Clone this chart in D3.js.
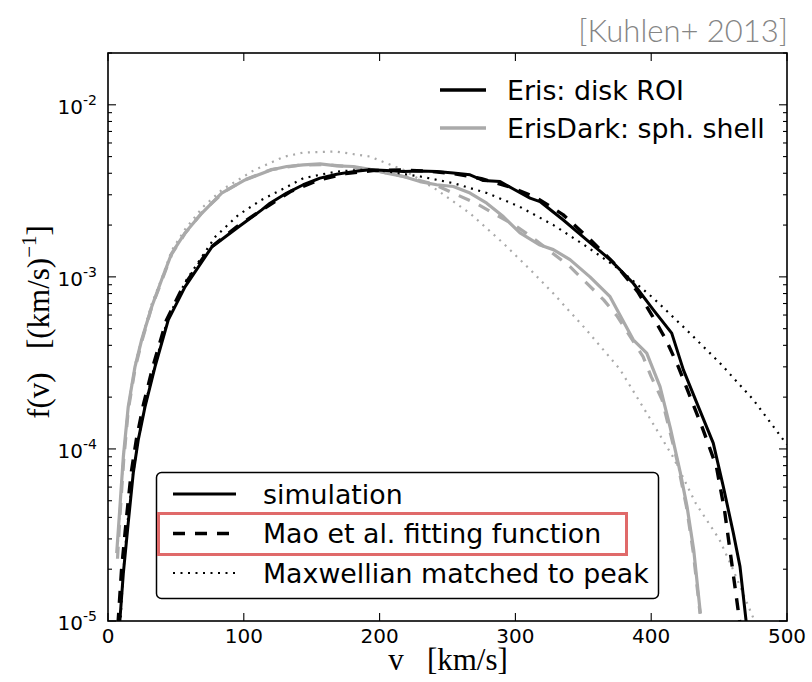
<!DOCTYPE html>
<html>
<head>
<meta charset="utf-8">
<script src="https://cdn.jsdelivr.net/npm/d3@7"></script>
<style>
  html, body { margin: 0; padding: 0; background: #fff; }
  svg { display: block; }
</style>
</head>
<body>
<svg id="chart" width="812" height="682"></svg>
<script>
// Speed distributions f(v), pairs of [v (km/s), f ((km/s)^-1)]
const erisSim = [
  [8.5, 9.5e-6], [11.3, 1.9e-5], [14.9, 3.72e-5], [18.6, 7.24e-5], [22.3, 1.13e-4],
  [27.2, 1.75e-4], [34.6, 3.0e-4], [44.4, 5.62e-4], [56.7, 8.75e-4], [76.4, 1.49e-3],
  [96.0, 1.95e-3], [113.2, 2.45e-3], [119.3, 2.68e-3], [131.6, 3.07e-3], [143.8, 3.43e-3],
  [156.1, 3.75e-3], [168.4, 3.95e-3], [180.6, 4.09e-3], [192.9, 4.19e-3], [205.2, 4.15e-3],
  [217.5, 4.09e-3], [229.7, 4.13e-3], [242.0, 4.09e-3], [254.3, 4.01e-3], [266.6, 3.92e-3],
  [276.4, 3.63e-3], [288.7, 3.58e-3], [298.5, 3.24e-3], [310.8, 2.87e-3], [318.1, 2.74e-3],
  [335.3, 2.14e-3], [352.5, 1.64e-3], [369.7, 1.26e-3], [386.8, 9.18e-4], [401.6, 6.43e-4],
  [415.1, 4.71e-4], [423.7, 2.88e-4], [434.7, 1.76e-4], [445.7, 1.08e-4], [453.1, 6.04e-5],
  [460.5, 3.24e-5], [465.4, 2.07e-5], [470.2, 9.5e-6]
];
const erisFit = [
  [7.3, 9.5e-6], [10, 2.0e-5], [13.5, 3.9e-5], [17, 7.2e-5], [21, 1.15e-4], [26, 1.8e-4],
  [33, 3.0e-4], [43, 5.6e-4], [55, 8.7e-4], [75, 1.47e-3], [95, 1.96e-3], [115, 2.5e-3],
  [135, 3.15e-3], [155, 3.65e-3], [175, 3.98e-3], [195, 4.15e-3], [215, 4.18e-3],
  [235, 4.12e-3], [255, 3.98e-3], [275, 3.72e-3], [295, 3.35e-3], [315, 2.9e-3],
  [335, 2.3e-3], [355, 1.65e-3], [375, 1.15e-3], [390, 8.2e-4], [401, 5.9e-4], [411, 4.3e-4],
  [420, 3.0e-4], [430, 1.89e-4], [437.5, 1.34e-4], [448, 7.9e-5], [454, 4.4e-5],
  [459, 2.26e-5], [464, 1.16e-5], [465.5, 9.5e-6]
];
const erisMaxwell = [
  [9, 9.5e-6], [11, 1.8e-5], [14, 3.5e-5], [18, 6.8e-5], [22, 1.1e-4], [27, 1.75e-4],
  [34, 3.0e-4], [44, 5.7e-4], [57, 9.4e-4], [79, 1.71e-3], [96, 2.29e-3], [113, 2.8e-3],
  [130, 3.28e-3], [144, 3.75e-3], [168, 4.09e-3], [193, 4.22e-3], [210, 4.05e-3],
  [230, 3.83e-3], [254, 3.51e-3], [279, 3.07e-3], [303, 2.56e-3], [328, 2.0e-3],
  [352.5, 1.5e-3], [377, 1.1e-3], [401.6, 7.52e-4], [426, 4.92e-4], [450.7, 3.15e-4],
  [475.2, 1.93e-4], [497.3, 1.13e-4], [500, 1.06e-4]
];
const darkSim = [
  [6.4, 2.48e-5], [8.8, 4.62e-5], [11.3, 9.01e-5], [14.9, 1.76e-4], [19.9, 3.01e-4],
  [24.8, 4.31e-4], [32.2, 6.71e-4], [39.5, 9.62e-4], [46.9, 1.37e-3], [56.7, 1.8e-3],
  [69.0, 2.34e-3], [83.7, 3.07e-3], [100.9, 3.66e-3], [120.5, 4.19e-3], [131.6, 4.38e-3],
  [143.8, 4.48e-3], [156.1, 4.54e-3], [168.4, 4.42e-3], [180.6, 4.38e-3], [192.9, 4.22e-3],
  [205.2, 4.01e-3], [217.5, 3.83e-3], [229.7, 3.58e-3], [242.0, 3.43e-3], [254.3, 3.35e-3],
  [266.6, 3.07e-3], [278.9, 2.68e-3], [291.1, 2.24e-3], [303.4, 1.8e-3], [318.1, 1.53e-3],
  [327.9, 1.44e-3], [340.2, 1.26e-3], [354.9, 1.0e-3], [369.7, 7.67e-4], [386.8, 4.31e-4],
  [396.7, 3.6e-4], [406.5, 2.3e-4], [414.1, 1.32e-4], [421.5, 7.23e-5], [426.4, 4.62e-5],
  [431.3, 2.59e-5], [436.2, 1.11e-5]
];
const darkFit = [
  [7, 2.3e-5], [9, 4.3e-5], [11.5, 8.5e-5], [15, 1.7e-4], [20, 2.95e-4], [25, 4.25e-4],
  [32, 6.6e-4], [40, 9.7e-4], [47, 1.36e-3], [57, 1.8e-3], [70, 2.4e-3], [85, 3.1e-3],
  [100, 3.65e-3], [120, 4.2e-3], [140, 4.45e-3], [160, 4.5e-3], [180, 4.35e-3],
  [200, 4.1e-3], [220, 3.8e-3], [240, 3.45e-3], [254, 3.07e-3], [271, 2.68e-3],
  [301, 1.96e-3], [313, 1.68e-3], [340, 1.15e-3], [352.5, 9.2e-4], [365, 7.35e-4],
  [375, 5.9e-4], [394, 3.44e-4], [400, 2.63e-4], [408, 1.93e-4], [419, 8.6e-5],
  [426, 4.6e-5], [431, 2.5e-5], [436, 1.1e-5]
];
const darkMaxwell = [
  [7, 2.6e-5], [9, 4.8e-5], [11.5, 9.3e-5], [15, 1.8e-4], [20, 3.1e-4], [25, 4.45e-4],
  [32, 6.9e-4], [40, 1.0e-3], [47, 1.43e-3], [57, 1.9e-3], [70, 2.55e-3], [84, 3.21e-3],
  [108, 4.19e-3], [130, 5.0e-3], [144, 5.28e-3], [168, 5.35e-3], [193, 5.0e-3],
  [217.5, 4.19e-3], [242, 3.21e-3], [266.6, 2.34e-3], [291, 1.57e-3], [311, 1.1e-3],
  [328, 8.0e-4], [352.5, 4.9e-4], [377, 2.9e-4], [397, 1.6e-4], [416, 9.0e-5],
  [433, 4.8e-5], [450, 3.0e-5], [459, 2.1e-5], [475, 1.05e-5]
];

const xTicks = [0, 100, 200, 300, 400, 500];
const yDecades = [-5, -4, -3, -2];
const yDomain = [1e-5, 2e-2];
const xDomain = [0, 500];

const topLegend = ["Eris: disk ROI", "ErisDark: sph. shell"];
const styleLegend = ["simulation", "Mao et al. fitting function", "Maxwellian matched to peak"];

const BLACK = "#000";
const GRAY = "#aaaaaa";

const svg = d3.select("#chart");
const m = { left: 108, right: 787, top: 53, bottom: 621 };

const x = d3.scaleLinear().domain(xDomain).range([m.left, m.right]);
const y = d3.scaleLog().domain(yDomain).range([m.bottom, m.top]);

svg.append("defs").append("clipPath").attr("id", "plotclip")
  .append("rect").attr("x", m.left).attr("y", m.top)
  .attr("width", m.right - m.left).attr("height", m.bottom - m.top);

const line = d3.line().x(d => x(d[0])).y(d => y(d[1]));

const curves = svg.append("g").attr("clip-path", "url(#plotclip)");
const series = [
  { data: darkMaxwell, color: GRAY, width: 2.2, dash: "2,5.5" },
  { data: darkFit, color: GRAY, width: 3.2, dash: "12,10" },
  { data: darkSim, color: GRAY, width: 3.2, dash: null },
  { data: erisMaxwell, color: BLACK, width: 2.2, dash: "2,5.5" },
  { data: erisFit, color: BLACK, width: 3.4, dash: "12,10" },
  { data: erisSim, color: BLACK, width: 3.0, dash: null }
];
series.forEach(s => {
  curves.append("path").datum(s.data)
    .attr("d", line).attr("fill", "none")
    .attr("stroke", s.color).attr("stroke-width", s.width)
    .attr("stroke-dasharray", s.dash)
    .attr("stroke-linejoin", "round");
});

// Frame
svg.append("rect").attr("x", m.left).attr("y", m.top)
  .attr("width", m.right - m.left).attr("height", m.bottom - m.top)
  .attr("fill", "none").attr("stroke", "#000").attr("stroke-width", 1.6);

// Ticks drawn inward on all four sides
const tickG = svg.append("g").attr("stroke", "#000").attr("stroke-width", 1.1);
const MAJ = 8, MIN = 4;
xTicks.forEach(t => {
  const px = x(t);
  tickG.append("line").attr("x1", px).attr("x2", px).attr("y1", m.bottom).attr("y2", m.bottom - MAJ);
  tickG.append("line").attr("x1", px).attr("x2", px).attr("y1", m.top).attr("y2", m.top + MAJ);
});
const yMinor = [];
for (let e = -5; e <= -2; e++) for (let k = 2; k <= 9; k++) {
  const v = k * Math.pow(10, e);
  if (v <= yDomain[1]) yMinor.push(v);
}
yDecades.forEach(e => {
  const py = y(Math.pow(10, e));
  tickG.append("line").attr("x1", m.left).attr("x2", m.left + MAJ).attr("y1", py).attr("y2", py);
  tickG.append("line").attr("x1", m.right).attr("x2", m.right - MAJ).attr("y1", py).attr("y2", py);
});
yMinor.forEach(v => {
  const py = y(v);
  tickG.append("line").attr("x1", m.left).attr("x2", m.left + MIN).attr("y1", py).attr("y2", py);
  tickG.append("line").attr("x1", m.right).attr("x2", m.right - MIN).attr("y1", py).attr("y2", py);
});

// Tick labels
const FONT = "'DejaVu Sans', sans-serif";
svg.append("g").selectAll("text").data(xTicks).join("text")
  .attr("x", d => x(d)).attr("y", m.bottom + 22)
  .attr("text-anchor", "middle").attr("font-family", FONT).attr("font-size", 20)
  .text(d => d);

const yl = svg.append("g");
yDecades.forEach(e => {
  const t = yl.append("text").attr("x", 97).attr("y", y(Math.pow(10, e)) + 9)
    .attr("text-anchor", "end").attr("font-family", FONT).attr("font-size", 20);
  t.append("tspan").text("10");
  t.append("tspan").attr("dy", -9).attr("font-size", 14).text("-" + (-e));
});

// Axis titles (serif, math style)
const SERIF = "'Liberation Serif', 'DejaVu Serif', serif";
svg.append("text").attr("x", 448).attr("y", 670).attr("text-anchor", "middle")
  .attr("font-family", SERIF).attr("font-size", 31)
  .attr("xml:space", "preserve")
  .text("v   [km/s]");

const ylab = svg.append("text")
  .attr("transform", "translate(49,322) rotate(-90)")
  .attr("text-anchor", "middle").attr("font-family", SERIF).attr("font-size", 31)
  .attr("xml:space", "preserve");
ylab.append("tspan").text("f(v)   [(km/s)");
ylab.append("tspan").attr("dy", -13).attr("font-size", 21).text("\u22121");
ylab.append("tspan").attr("dy", 13).text("]");

// Upper legend: simulations
const topColors = [BLACK, GRAY];
topLegend.forEach((label, i) => {
  const cy = 90 + i * 38;
  svg.append("line").attr("x1", 440).attr("x2", 486).attr("y1", cy).attr("y2", cy)
    .attr("stroke", topColors[i]).attr("stroke-width", 3.4);
  svg.append("text").attr("x", 507).attr("y", cy + 9.5)
    .attr("font-family", FONT).attr("font-size", 26.8).text(label);
});

// Lower legend: line styles
const lg = svg.append("g");
lg.append("rect").attr("x", 156.5).attr("y", 472.5).attr("width", 502).attr("height", 126)
  .attr("rx", 5).attr("fill", "#fff").attr("stroke", "#000").attr("stroke-width", 1.5);
const styleDash = [null, "12,10", "2,5.5"];
const styleWidth = [3.2, 3.4, 2.0];
styleLegend.forEach((label, i) => {
  const cy = 494 + i * 39.5;
  lg.append("line").attr("x1", 173).attr("x2", 236).attr("y1", cy).attr("y2", cy)
    .attr("stroke", "#000").attr("stroke-width", styleWidth[i])
    .attr("stroke-dasharray", styleDash[i]);
  lg.append("text").attr("x", 263).attr("y", cy + 9.5)
    .attr("font-family", FONT).attr("font-size", 26.8).text(label);
});
// Highlight around the fitting-function entry
lg.append("rect").attr("x", 158.5).attr("y", 513.5).attr("width", 468).attr("height", 41)
  .attr("fill", "none").attr("stroke", "#e06a6a").attr("stroke-width", 3);

// Citation
svg.append("text").attr("x", 788).attr("y", 42).attr("text-anchor", "end")
  .attr("font-family", "Lato, 'Open Sans', sans-serif").attr("font-weight", 300)
  .attr("font-size", 31).attr("fill", "#858585").text("[Kuhlen+ 2013]");
</script>
</body>
</html>
